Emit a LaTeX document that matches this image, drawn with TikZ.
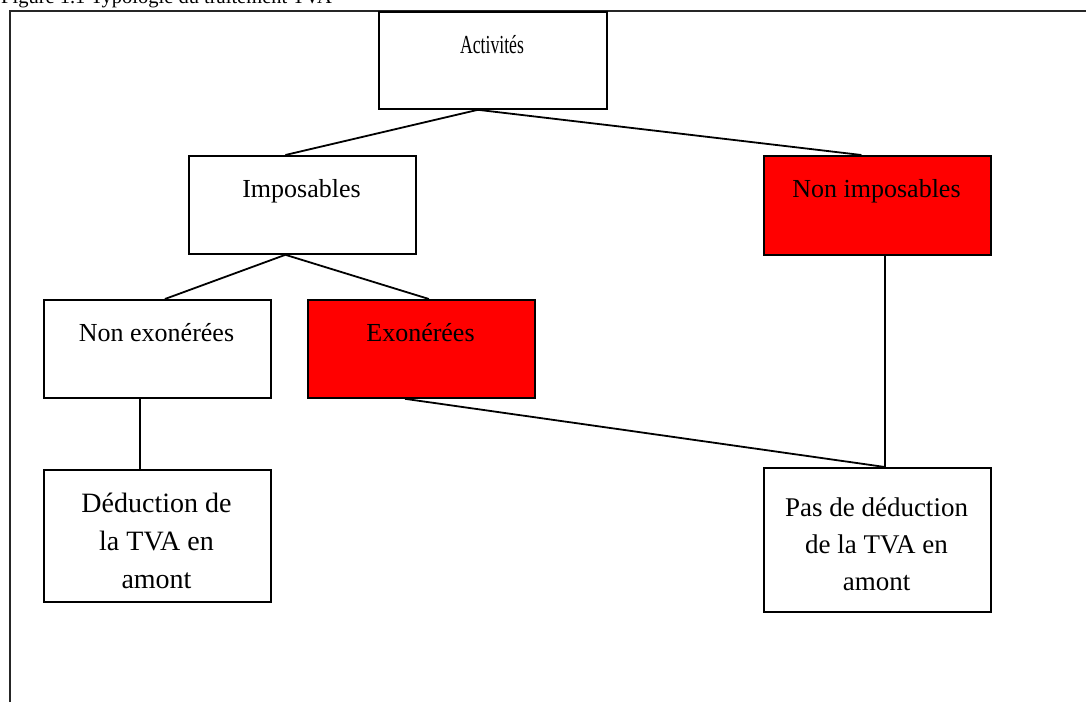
\documentclass[tikz,border=0pt]{standalone}
\usepackage{fontspec}
\setmainfont{Liberation Serif}
\tikzset{
  box/.style={draw=black, line width=1.8pt, minimum width=227pt, minimum height=98pt,
              anchor=north west, inner sep=0pt},
  redbox/.style={box, fill=red},
  lbl/.style={font=\fontsize{26}{34}\selectfont, anchor=base, inner sep=0pt},
  bigtxt/.style={align=center, anchor=north, inner sep=0pt},
  link/.style={line width=1.8pt},
  frame/.style={line width=1.8pt, draw=black!85},
}
\begin{document}
\begin{tikzpicture}[x=1pt,y=-1pt]
\useasboundingbox (0,0) rectangle (1086,702);
\clip (0,0) rectangle (1086,702);

% caption and page frame
\node[anchor=base west, inner sep=0pt, font=\fontsize{20.5}{24}\selectfont] (title) at (1,3)
  {Figure 1.1 Typologie du traitement TVA};
\draw[frame] (10,702) -- (10,11) -- (1090,11);

% boxes
\node[box, minimum width=228pt, minimum height=97pt] (act) at (378,11) {};
\node[box] (imp) at (188,155) {};
\node[redbox, minimum height=99pt] (nimp) at (763,155) {};
\node[box] (nexo) at (43,299) {};
\node[redbox] (exo) at (307,299) {};
\node[box, minimum height=132pt] (ded) at (43,469) {};
\node[box, minimum height=144pt] (pas) at (763,467) {};

% labels
\node[lbl] (tact) at (492,53) {\scalebox{0.68}[1]{Activités}};
\node[lbl] (timp) at (301.5,197) {Imposables};
\node[lbl] (tnimp) at (876.5,197) {Non imposables};
\node[lbl] (tnexo) at (156.5,341) {Non exonérées};
\node[lbl] (texo) at (420.5,341) {Exonérées};
\node[bigtxt, font=\fontsize{28}{38}\selectfont] (tded) at (156.5,493)
  {Déduction de\\la TVA en\\amont};
\node[bigtxt, font=\fontsize{27}{37}\selectfont] (tpas) at (876.5,498)
  {Pas de déduction\\de la TVA en\\amont};

% connectors
\draw[link] ([xshift=-15pt]act.south) -- ([xshift=-17pt]imp.north);
\draw[link] ([xshift=-15pt]act.south) -- ([xshift=-16pt]nimp.north);
\draw[link] ([xshift=-17pt]imp.south) -- ([xshift=7.5pt]nexo.north);
\draw[link] ([xshift=-17pt]imp.south) -- ([xshift=7.5pt]exo.north);
\draw[link] ([xshift=7.5pt]nimp.south) -- ([xshift=7.5pt]pas.north);
\draw[link] ([xshift=-16.5pt]exo.south) -- ([xshift=7.5pt]pas.north);
\draw[link] ([xshift=-17.5pt]nexo.south) -- ([xshift=-17.5pt]ded.north);
\end{tikzpicture}
\end{document}
